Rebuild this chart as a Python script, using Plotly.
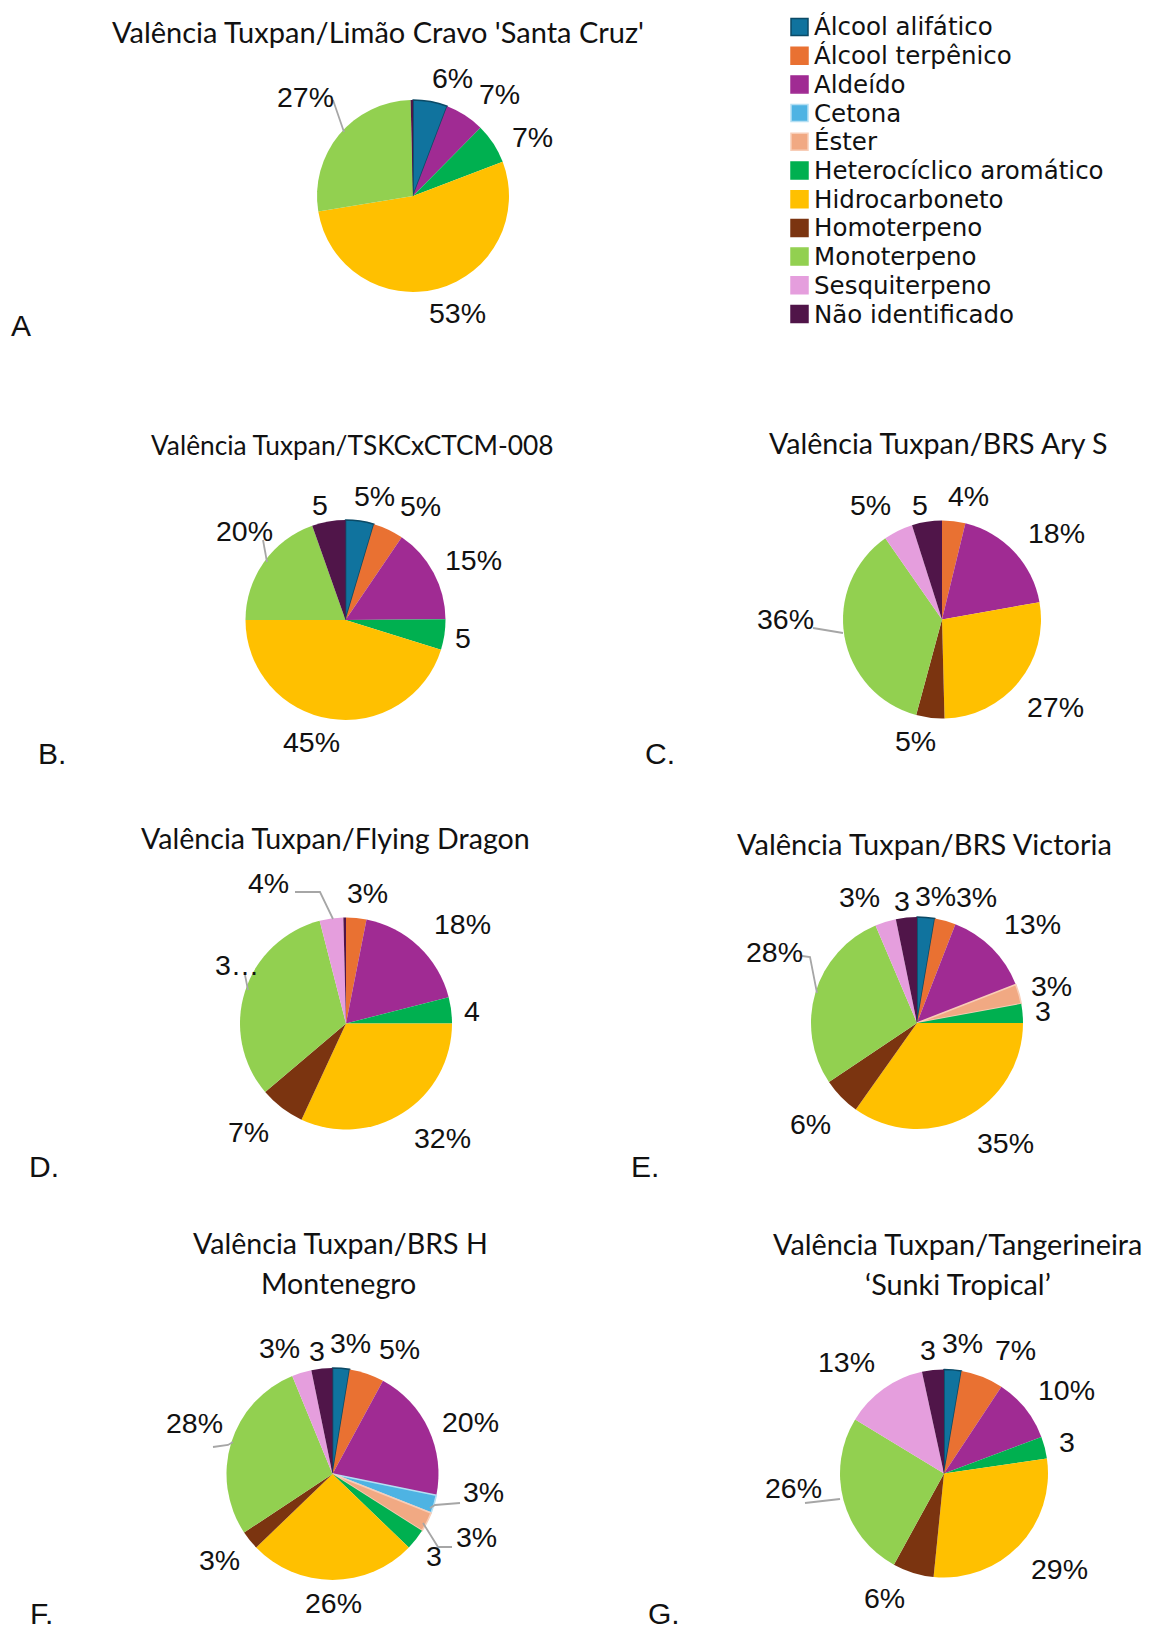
import plotly.graph_objects as go

W, H = 1149, 1626

# ---- data -------------------------------------------------------------
categories = [
    "Álcool alifático", "Álcool terpênico", "Aldeído", "Cetona", "Éster",
    "Heterocíclico aromático", "Hidrocarboneto", "Homoterpeno", "Monoterpeno",
    "Sesquiterpeno", "Não identificado",
]

# relative share (%) of each chemical class, per rootstock
limao_cravo   = [5.8, 0.0, 6.6, 0.0, 0.0, 6.8, 53.2, 0.0, 27.2, 0.0, 0.4]
tskc_ctcm     = [4.6, 4.9, 15.4, 0.0, 0.0, 4.9, 45.2, 0.0, 19.6, 0.0, 5.4]
brs_ary_s     = [0.0, 3.8, 18.4, 0.0, 0.0, 0.0, 27.4, 4.6, 36.1, 4.8, 4.9]
flying_dragon = [0.0, 3.1, 17.9, 0.0, 0.0, 4.0, 31.9, 6.9, 32.2, 3.6, 0.4]
brs_victoria  = [2.7, 3.2, 13.2, 0.0, 3.0, 2.9, 34.8, 5.8, 28.0, 3.2, 3.2]
brs_montenegro = [2.6, 5.3, 20.3, 2.8, 3.0, 3.2, 25.6, 2.9, 28.1, 3.0, 3.2]
sunki_tropical = [2.7, 6.6, 10.0, 0.0, 0.0, 3.4, 28.9, 6.4, 25.7, 12.9, 3.4]

titles = [
    ["Valência Tuxpan/Limão Cravo 'Santa Cruz'"],
    ["Valência Tuxpan/TSKCxCTCM-008"],
    ["Valência Tuxpan/BRS Ary S"],
    ["Valência Tuxpan/Flying Dragon"],
    ["Valência Tuxpan/BRS Victoria"],
    ["Valência Tuxpan/BRS H", "Montenegro"],
    ["Valência Tuxpan/Tangerineira", "‘Sunki Tropical’"],
]
panel_letters = ["A", "B.", "C.", "D.", "E.", "F.", "G."]

# ---- style --------------------------------------------------------------
colors = ["#10739E", "#E97132", "#A02B93", "#4EB3E3", "#F1A983", "#00B050",
          "#FFC000", "#7B3410", "#92D050", "#E59EDD", "#501549"]
edge_colors = ["#0B4A66", "#E97132", "#A02B93", "#B5DFF3", "#F8CDB7", "#00B050",
               "#FFC000", "#7B3410", "#92D050", "#E59EDD", "#501549"]
edge_widths = [1.6, 0, 0, 1.6, 1.6, 0, 0, 0, 0, 0, 0]

LABEL_FONT = dict(family="Liberation Sans, Arial, sans-serif", size=28.5, color="#111111")
TITLE_FAMILY = "Lato, sans-serif"
LEGEND_FONT = dict(family="DejaVu Sans, sans-serif", size=24.5, color="#111111")
LETTER_FONT = dict(family="Liberation Sans, Arial, sans-serif", size=30, color="#111111")
LEADER = dict(color="#A6A6A6", width=1.8)

# pie layout: centre (px), radius (px), title rows (x, y) and size, panel letter (x, y)
panels = [
    dict(values=limao_cravo, c=(413, 196), r=96, title=[(378, 32)], tsize=29,
         letter=(21, 326),
         label_fmt={},
         label_pos={0: (452, 78), 2: (499, 94), 5: (532, 137), 6: (457, 313), 8: (305, 97)},
         leaders=[[(333, 100), (344, 132)]]),
    dict(values=tskc_ctcm, c=(345.5, 620), r=100, title=[(352, 445)], tsize=26.3,
         letter=(52, 754),
         label_fmt={5: "num", 10: "num"},
         label_pos={0: (374, 496), 1: (420, 506), 2: (473, 560), 5: (463, 638),
                    6: (311, 742), 8: (244, 531), 10: (320, 505)},
         leaders=[[(263, 540), (267, 562)]]),
    dict(values=brs_ary_s, c=(942, 619.5), r=99, title=[(938, 443)], tsize=28.6,
         letter=(660, 754),
         label_fmt={10: "num"},
         label_pos={1: (968, 496), 2: (1056, 533), 6: (1055, 707), 7: (915, 741),
                    8: (785, 619), 9: (870, 505), 10: (920, 505)},
         leaders=[[(813, 628), (843, 633)]]),
    dict(values=flying_dragon, c=(346, 1023.5), r=106, title=[(335, 838)], tsize=28.6,
         letter=(44, 1166),
         label_fmt={5: "num", 8: "cut"},
         label_pos={1: (367, 893), 2: (462, 924), 5: (472, 1011), 6: (442, 1138),
                    7: (248, 1132), 8: (237, 965), 9: (268, 883)},
         leaders=[[(295, 892), (320, 892), (333, 919)], [(245, 975), (248, 990)]]),
    dict(values=brs_victoria, c=(917, 1023), r=106, title=[(924, 844)], tsize=29,
         letter=(645, 1166),
         label_fmt={5: "num", 10: "num"},
         label_pos={0: (935, 896), 1: (976, 897), 2: (1032, 924), 4: (1051, 986),
                    5: (1043, 1011), 6: (1005, 1143), 7: (810, 1124), 8: (774, 952),
                    9: (859, 897), 10: (902, 901)},
         leaders=[[(802, 956), (810, 957), (817, 993)]]),
    dict(values=brs_montenegro, c=(332.5, 1474), r=106, title=[(340, 1243), (339, 1283)],
         tsize=28.6, letter=(41, 1613),
         label_fmt={5: "num", 10: "num"},
         label_pos={0: (350, 1343), 1: (399, 1349), 2: (470, 1422), 3: (483, 1492),
                    4: (476, 1537), 5: (434, 1556), 6: (333, 1603), 7: (219, 1560),
                    8: (194, 1423), 9: (279, 1348), 10: (317, 1351)},
         leaders=[[(460, 1503), (435, 1505), (430, 1508)],
                  [(452, 1547), (438, 1547), (423, 1523)],
                  [(213, 1447), (228, 1445), (233, 1442)]]),
    dict(values=sunki_tropical, c=(944, 1473.5), r=104, title=[(957, 1244), (958, 1284)],
         tsize=28.8, letter=(664, 1613),
         label_fmt={5: "num", 10: "num"},
         label_pos={0: (962, 1343), 1: (1015, 1350), 2: (1066, 1390), 5: (1067, 1442),
                    6: (1059, 1569), 7: (884, 1598), 8: (793, 1488), 9: (846, 1362),
                    10: (928, 1350)},
         leaders=[[(805, 1503), (840, 1499)]]),
]


def px(x):
    return x / W


def py(y):
    return 1 - y / H


def label_text(value, total, fmt):
    pct = f"{value / total * 100:.0f}"
    if fmt == "num":
        return pct
    if fmt == "cut":
        return pct[0] + "…"
    return pct + "%"


def text_note(x, y, text, font, xanchor="center"):
    return dict(x=px(x), y=py(y), xref="paper", yref="paper", text=text,
                showarrow=False, xanchor=xanchor, yanchor="middle", font=font)


fig = go.Figure()
annotations = []
shapes = []

for panel, title_rows, letter in zip(panels, titles, panel_letters):
    vals = panel["values"]
    keep = [i for i, v in enumerate(vals) if v > 0]
    cx, cy = panel["c"]
    r = panel["r"]
    fig.add_trace(go.Pie(
        labels=[categories[i] for i in keep],
        values=[vals[i] for i in keep],
        marker=dict(colors=[colors[i] for i in keep],
                    line=dict(color=[edge_colors[i] for i in keep],
                              width=[edge_widths[i] for i in keep])),
        sort=False, direction="clockwise", rotation=0,
        textinfo="none", hoverinfo="label+percent",
        showlegend=False,
        domain=dict(x=[px(cx - r), px(cx + r)], y=[py(cy + r), py(cy - r)]),
    ))

    total = sum(vals)
    for i, (lx, ly) in panel["label_pos"].items():
        annotations.append(text_note(
            lx, ly, label_text(vals[i], total, panel["label_fmt"].get(i)), LABEL_FONT))

    for pts in panel["leaders"]:
        path = "M " + " L ".join(f"{px(x)},{py(y)}" for x, y in pts)
        shapes.append(dict(type="path", path=path, xref="paper", yref="paper",
                           line=LEADER))

    title_font = dict(family=TITLE_FAMILY, size=panel["tsize"], color="#111111")
    for text, (tx, ty) in zip(title_rows, panel["title"]):
        annotations.append(text_note(tx, ty, text, title_font))

    lx, ly = panel["letter"]
    annotations.append(text_note(lx, ly, letter, LETTER_FONT))

# shared legend of chemical classes
LEG_X0, LEG_Y0, LEG_ROW, LEG_BOX = 791, 27, 28.7, 17
for k, (name, col, edge) in enumerate(zip(categories, colors, edge_colors)):
    yc = LEG_Y0 + k * LEG_ROW
    shapes.append(dict(type="rect", xref="paper", yref="paper",
                       x0=px(LEG_X0), x1=px(LEG_X0 + LEG_BOX),
                       y0=py(yc + LEG_BOX / 2), y1=py(yc - LEG_BOX / 2),
                       fillcolor=col, line=dict(color=edge, width=1.5)))
    annotations.append(text_note(LEG_X0 + LEG_BOX + 4, yc, name, LEGEND_FONT, "left"))

fig.update_layout(
    width=W, height=H, autosize=False,
    margin=dict(l=0, r=0, t=0, b=0),
    paper_bgcolor="white", plot_bgcolor="white",
    annotations=annotations, shapes=shapes,
    showlegend=False,
)

fig.write_html("out.html")
